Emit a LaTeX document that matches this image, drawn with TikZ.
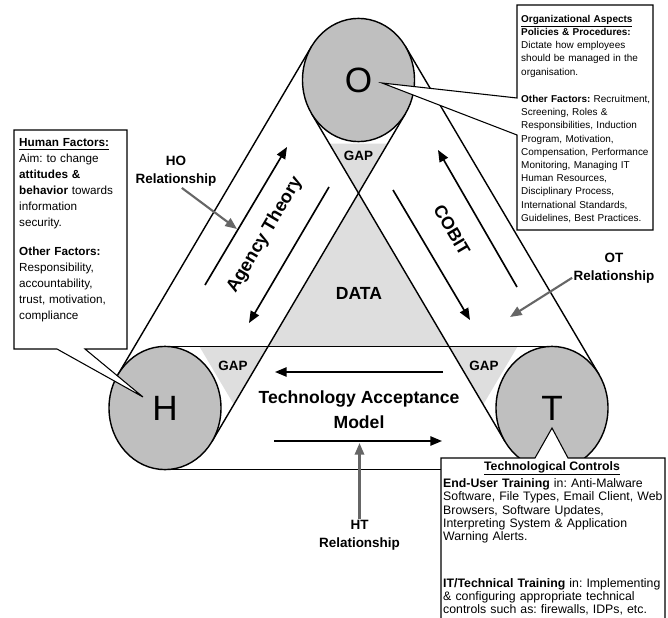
\documentclass[tikz,border=0pt]{standalone}
\usepackage{fontspec}
\setmainfont{Liberation Sans}
\usetikzlibrary{arrows.meta}
\newcommand{\fsz}[2]{\fontsize{#1}{#2}\selectfont}
\frenchspacing

\begin{document}
\begin{tikzpicture}[x=0.03cm, y=-0.03cm,
  belt/.style={line width=1.2pt, black},
  wheel/.style={line width=1.2pt, fill=black!25},
  gapfill/.style={fill=black!13},
  flow/.style={line width=1.4pt, -{Triangle[length=10pt,width=8pt]}},
  relarrow/.style={line width=1.8pt, black!60, -{Triangle[length=10pt,width=8pt]}},
  callout/.style={line width=0.9pt, fill=white},
  letter/.style={font=\fsz{30}{36}},
  lab/.style={font=\bfseries\fsz{15}{21.3}, align=center},
  gaplab/.style={font=\bfseries\fsz{11.5}{14}},
  rel/.style={font=\bfseries\fsz{11.5}{15.4}, align=center, inner sep=1pt},
  boxtext/.style={anchor=north west, inner sep=0pt, align=left}]
\useasboundingbox (0,0) rectangle (668,618);

% wheel centres
\coordinate (Oc) at (358.5,80);
\coordinate (Hc) at (165,408);
\coordinate (Tc) at (552,408);

% tangent points of the belts
\coordinate (ohi1) at (405.5,113.5); \coordinate (ohi2) at (212,441.5);
\coordinate (oho1) at (311.5,46.5);  \coordinate (oho2) at (118,374.5);
\coordinate (oti1) at (311.5,113.5); \coordinate (oti2) at (505,441.5);
\coordinate (oto1) at (405.5,46.5);  \coordinate (oto2) at (599,374.5);
\coordinate (htt1) at (165,346.4);   \coordinate (htt2) at (552,346.4);
\coordinate (htb1) at (165,469.6);   \coordinate (htb2) at (552,469.6);

% grey areas
\fill[gapfill] (358.5,193.2) -- (268.1,346.4) -- (448.9,346.4) -- cycle;
\fill[gapfill] (329.3,143.6) -- (387.7,143.6) -- (358.5,193.2) -- cycle;
\fill[gapfill] (199.4,346.4) -- (268.1,346.4) -- (233.8,404.6) -- cycle;
\fill[gapfill] (517.6,346.4) -- (448.9,346.4) -- (483.2,404.6) -- cycle;

% belts
\draw[belt] (oho1) -- (oho2);
\draw[belt] (ohi1) -- (ohi2);
\draw[belt] (oto1) -- (oto2);
\draw[belt] (oti1) -- (oti2);
\draw[belt] (htt1) -- (htt2);
\draw[belt] (htb1) -- (htb2);

% wheels
\draw[wheel] (Oc) circle [x radius=56, y radius=61.6];
\draw[wheel] (Hc) circle [x radius=56, y radius=61.6];
\draw[wheel] (Tc) circle [x radius=56, y radius=61.6];

\node[gaplab] (gapo) at (358.5,156) {GAP};
\node[gaplab] (gaph) at (233,366) {GAP};
\node[gaplab] (gapt) at (484,366) {GAP};
\node[lab] (data) at (359,293) {DATA};
\node[lab] (tam) at (359,409.4) {Technology Acceptance\\Model};
\node[lab, font=\bfseries\fsz{15.5}{18}, rotate=59.5] (agency) at (265,235) {Agency Theory};
\node[lab, rotate=-59.5] (cobit) at (452,230) {COBIT};

% arrows along the belts
\coordinate (ag1) at (205,285); \coordinate (ag2) at (287,147);
\coordinate (ag3) at (329,187); \coordinate (ag4) at (249,323);
\coordinate (cb1) at (517,287); \coordinate (cb2) at (438,150);
\coordinate (cb3) at (393,190); \coordinate (cb4) at (470,320);
\coordinate (ta1) at (443,372); \coordinate (ta2) at (275,372);
\coordinate (ta3) at (274,441); \coordinate (ta4) at (442,441);
\draw[flow] (ag1) -- (ag2);
\draw[flow] (ag3) -- (ag4);
\draw[flow] (cb1) -- (cb2);
\draw[flow] (cb3) -- (cb4);
\draw[flow] (ta1) -- (ta2);
\draw[flow] (ta3) -- (ta4);

% callouts
\draw[callout] (14,130) -- (127,130) -- (127,349) -- (85,349) -- (143,397) -- (57,349) -- (14,349) -- cycle;
\draw[callout] (517,5) -- (653,5) -- (653,230) -- (517,230) -- (517,135) -- (382,83) -- (517,98) -- cycle;
\draw[callout] (441,458) -- (535,458) -- (552,428) -- (568,458) -- (665,458) -- (665,630) -- (441,630) -- cycle;

\node[letter] (O) at (Oc) {O};
\node[letter] (H) at (Hc) {H};
\node[letter] (T) at (Tc) {T};

\node[boxtext, text width=90pt, font=\fsz{10}{13.5}] (human) at (19,138.7)
  {\underline{\textbf{Human Factors:}}\\ Aim: to change\\ \textbf{attitudes \&}\\
   \textbf{behavior} towards\\ information\\ security.\\[12pt]
   \textbf{Other Factors:}\\ Responsibility,\\ accountability,\\ trust, motivation,\\ compliance};

\node[boxtext, text width=112pt, font=\fsz{8.5}{11.3}] (organ) at (521,14.6)
  {\underline{\textbf{Organizational Aspects}}\\ \textbf{Policies \& Procedures:}\\
   Dictate how employees\\ should be managed in the\\ organisation.\\[12pt]
   \textbf{Other Factors:} Recruitment,\\ Screening, Roles \&\\ Responsibilities, Induction\\
   Program, Motivation,\\ Compensation, Performance\\ Monitoring, Managing IT\\
   Human Resources,\\ Disciplinary Process,\\ International Standards,\\ Guidelines, Best Practices.};

\node[font=\bfseries\fsz{10.5}{12}] (techtitle) at (552,468.3) {\underline{Technological Controls}};
\node[boxtext, text width=188pt, font=\fsz{10.5}{11.2}] (tech) at (443,478.7)
  {\textbf{End-User Training} in: Anti-Malware\\ Software, File Types, Email Client, Web\\
   Browsers, Software Updates,\\ Interpreting System \& Application\\ Warning Alerts.\\[29pt]
   \textbf{IT/Technical Training} in: Implementing\\ \& configuring appropriate technical\\
   controls such as: firewalls, IDPs, etc.};

% relationships
\node[rel] (horel) at (176,171.4) {HO\\Relationship};
\node[rel] (otrel) at (614,268.4) {OT\\Relationship};
\node[rel] (htrel) at (359.5,535.4) {HT\\Relationship};
\coordinate (hoend) at (237,229);
\coordinate (otend) at (510,317);
\coordinate (htend) at (359.5,443);
\draw[relarrow] ([xshift=5pt]horel.south) -- (hoend);
\draw[relarrow] ([yshift=-8pt]otrel.west) -- (otend);
\draw[relarrow] (htrel.north) -- (htend);
\end{tikzpicture}
\end{document}
